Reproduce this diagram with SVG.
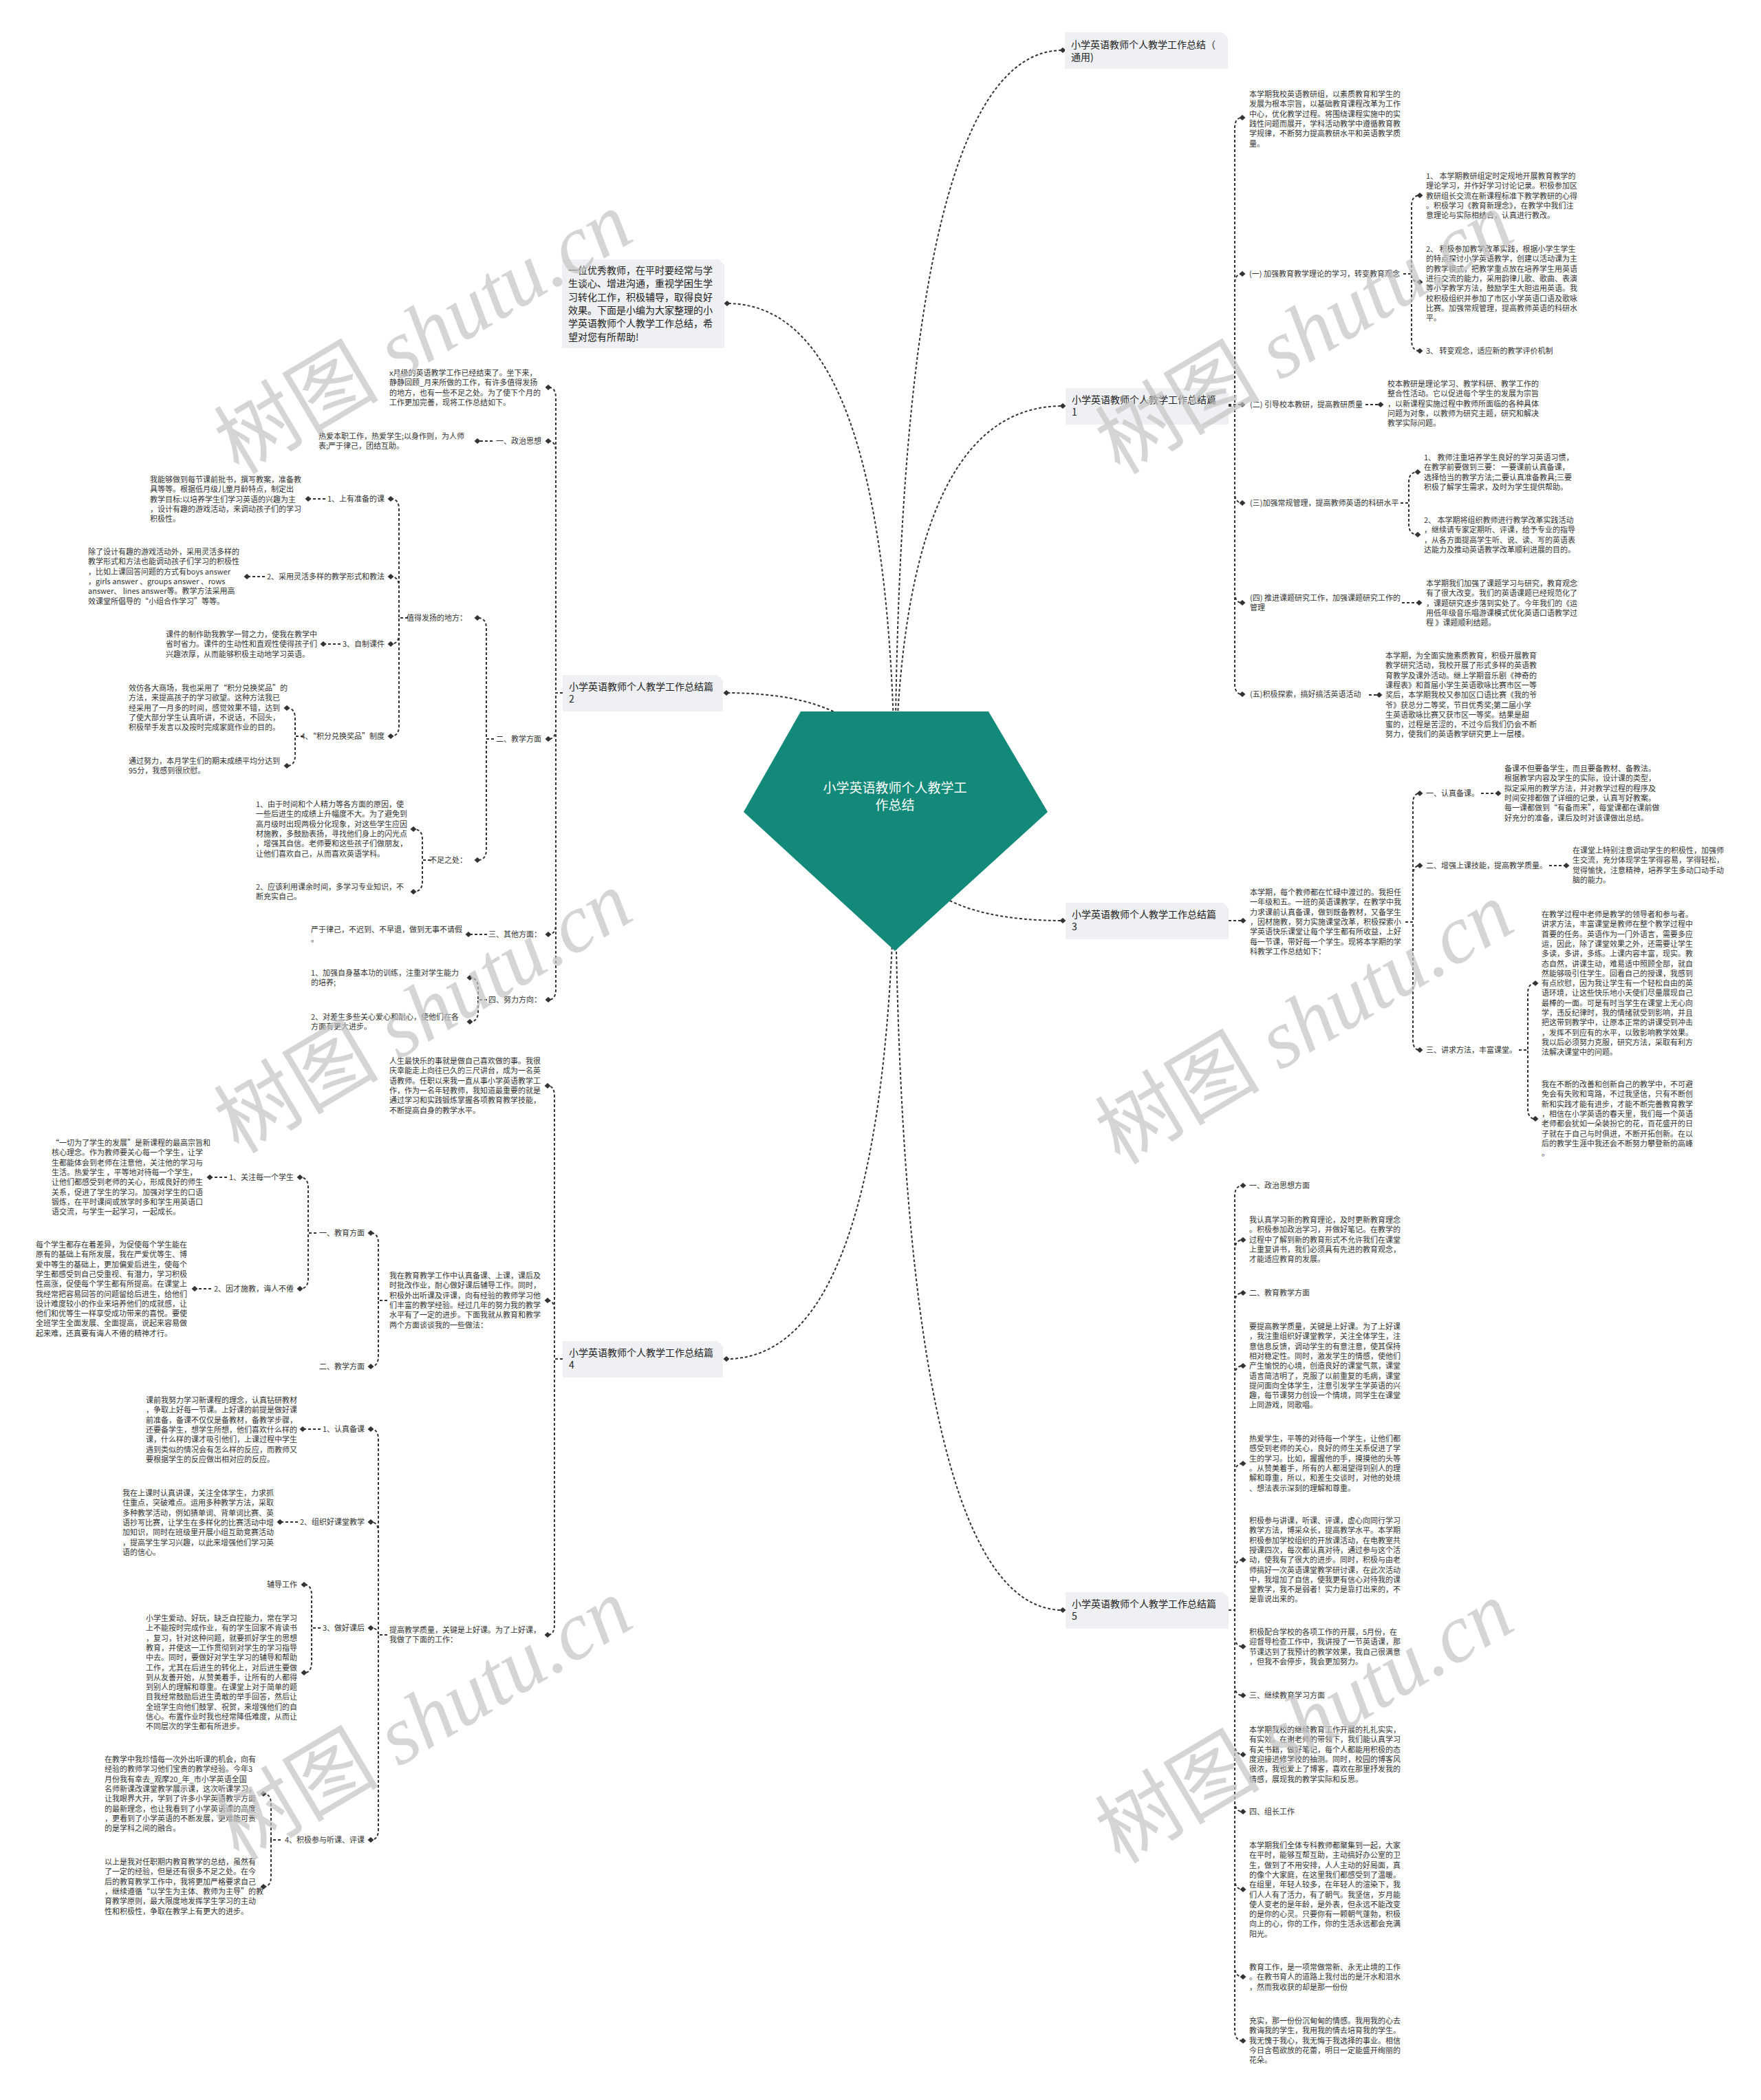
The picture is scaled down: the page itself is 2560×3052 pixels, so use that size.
<svg xmlns="http://www.w3.org/2000/svg" width="2560" height="3052" viewBox="0 0 2560 3052">
<defs>
<marker id="d" viewBox="-5 -5 10 10" refX="0" refY="0" markerWidth="10" markerHeight="9" markerUnits="userSpaceOnUse" orient="auto"><path d="M-5 0L0-4.5L5 0L0 4.5Z" fill="#333"/></marker>
<style>
.t{font-family:"Noto Sans CJK SC","Liberation Sans",sans-serif;font-size:11px;fill:#333}
.e{text-anchor:end}
.n{font-size:14px;fill:#222}
.box{fill:#eef0f3}
.c path{fill:none;stroke:#333;stroke-width:2;stroke-dasharray:4 3;marker-end:url(#d)}
.wm{font-size:120px;fill:#c4c4c4;opacity:.7}
.cj{font-family:"Noto Sans CJK SC",sans-serif}
.lt{font-family:"Liberation Serif",serif;font-style:italic}
</style>
</defs>
<rect width="2560" height="3052" fill="#fff"/>
<g id="connectors" class="c">
<path d="M1301 1180Q1301 73 1545 73"/>
<path d="M1301 1180Q1301 590 1545 590"/>
<path d="M1301 1180Q1301 1338 1545 1338"/>
<path d="M1301 1180Q1301 2340 1545 2340"/>
<path d="M1301 1180Q1301 441 1057 441"/>
<path d="M1301 1180Q1301 1007 1056 1007"/>
<path d="M1301 1180Q1301 1975 1056 1975"/>
<path d="M1786 590H1795V186Q1795 171 1806 171"/>
<path d="M1786 590H1795V413Q1795 398 1806 398"/>
<path d="M1786 588H1806"/>
<path d="M1786 590H1795V716Q1795 731 1806 731"/>
<path d="M1786 590H1795V861Q1795 876 1806 876"/>
<path d="M1786 590H1795V994Q1795 1009 1806 1009"/>
<path d="M2040 398H2052V299Q2052 284 2064 284"/>
<path d="M2040 398H2052Q2052 410 2064 410"/>
<path d="M2040 398H2052V495Q2052 510 2064 510"/>
<path d="M1985 588H2007"/>
<path d="M2036 731H2048V701Q2048 686 2061 686"/>
<path d="M2036 731H2048V762Q2048 777 2061 777"/>
<path d="M2038 876H2063"/>
<path d="M1990 1010H2005"/>
<path d="M1786 1338H1807"/>
<path d="M2043 1340H2054V1168Q2054 1153 2064 1153"/>
<path d="M2043 1340H2054V1273Q2054 1258 2064 1258"/>
<path d="M2043 1340H2054V1511Q2054 1526 2064 1526"/>
<path d="M2153 1153H2178"/>
<path d="M2252 1258H2277"/>
<path d="M2208 1526H2221V1444Q2221 1429 2232 1429"/>
<path d="M2208 1526H2221V1611Q2221 1626 2232 1626"/>
<path d="M1786 2340H1795V1738Q1795 1723 1807 1723"/>
<path d="M1786 2340H1795V1817Q1795 1802 1807 1802"/>
<path d="M1786 2340H1795V1894Q1795 1879 1807 1879"/>
<path d="M1786 2340H1795V2000Q1795 1985 1807 1985"/>
<path d="M1786 2340H1795V2142Q1795 2127 1807 2127"/>
<path d="M1786 2340H1795V2282Q1795 2267 1807 2267"/>
<path d="M1786 2340H1795V2378Q1795 2393 1807 2393"/>
<path d="M1786 2340H1795V2449Q1795 2464 1807 2464"/>
<path d="M1786 2340H1795V2535Q1795 2550 1807 2550"/>
<path d="M1786 2340H1795V2618Q1795 2633 1807 2633"/>
<path d="M1786 2340H1795V2731Q1795 2746 1807 2746"/>
<path d="M1786 2340H1795V2858Q1795 2873 1807 2873"/>
<path d="M1786 2340H1795V2951Q1795 2966 1807 2966"/>
<path d="M818 1007H808V578Q808 563 797 563"/>
<path d="M818 1007H808V656Q808 641 797 641"/>
<path d="M818 1007H808V1059Q808 1074 797 1074"/>
<path d="M818 1007H808V1343Q808 1358 797 1358"/>
<path d="M818 1007H808V1438Q808 1453 797 1453"/>
<path d="M716 641H694"/>
<path d="M718 1074H707V913Q707 898 694 898"/>
<path d="M718 1074H707V1235Q707 1250 694 1250"/>
<path d="M593 898H580V740Q580 725 568 725"/>
<path d="M593 898H580V853Q580 838 568 838"/>
<path d="M593 898H580V921Q580 936 568 936"/>
<path d="M593 898H580V1055Q580 1070 568 1070"/>
<path d="M473 725H448"/>
<path d="M385 838H359"/>
<path d="M495 936H470"/>
<path d="M441 1070H429V1044Q429 1029 417 1029"/>
<path d="M441 1070H429V1098Q429 1113 417 1113"/>
<path d="M626 1250H614V1220Q614 1205 601 1205"/>
<path d="M626 1250H614V1281Q614 1296 601 1296"/>
<path d="M708 1358H681"/>
<path d="M708 1453H695V1436Q695 1421 683 1421"/>
<path d="M708 1453H695V1470Q695 1485 683 1485"/>
<path d="M818 1975H806V1593Q806 1578 796 1578"/>
<path d="M818 1975H806V1905Q806 1890 796 1890"/>
<path d="M818 1975H806V2361Q806 2376 796 2376"/>
<path d="M563 1890H550V1807Q550 1792 539 1792"/>
<path d="M563 1890H550V1971Q550 1986 539 1986"/>
<path d="M460 1792H448V1726Q448 1711 436 1711"/>
<path d="M460 1792H448V1858Q448 1873 436 1873"/>
<path d="M330 1711H305"/>
<path d="M307 1873H283"/>
<path d="M563 2376H550V2092Q550 2077 539 2077"/>
<path d="M563 2376H550V2227Q550 2212 539 2212"/>
<path d="M563 2376H550Q550 2366 539 2366"/>
<path d="M563 2376H550V2659Q550 2674 539 2674"/>
<path d="M466 2077H440"/>
<path d="M433 2212H407"/>
<path d="M466 2366H453V2318Q453 2303 442 2303"/>
<path d="M466 2366H453V2416Q453 2431 442 2431"/>
<path d="M408 2674H394V2622Q394 2607 383 2607"/>
<path d="M408 2674H394V2727Q394 2742 383 2742"/>
</g>

<g id="root">
<polygon points="1164,1034 1437,1034 1523,1180 1301,1382 1081,1180" fill="#13897a"/>
<text class="t" x="1301" y="1152" text-anchor="middle" style="font-size:19px;fill:#fff"><tspan x="1301">小学英语教师个人教学工</tspan><tspan x="1301" dy="25">作总结</tspan></text>
</g>

<g id="n-intro"><path class="box" d="M817 377H1045L1053 385V506H817Z"/>
<text class="t n" x="826" y="398"><tspan x="826">一位优秀教师，在平时要经常与学</tspan><tspan x="826" dy="19.3">生谈心、增进沟通，重视学困生学</tspan><tspan x="826" dy="19.3">习转化工作，积极辅导，取得良好</tspan><tspan x="826" dy="19.3">效果。下面是小编为大家整理的小</tspan><tspan x="826" dy="19.3">学英语教师个人教学工作总结，希</tspan><tspan x="826" dy="19.3">望对您有所帮助!</tspan></text></g>

<g id="n-general"><path class="box" d="M1548 47H1777L1785 55V100H1548Z"/>
<text class="t n" x="1557" y="70"><tspan x="1557">小学英语教师个人教学工作总结（</tspan><tspan x="1557" dy="18">通用)</tspan></text></g>

<g id="n-p1"><path class="box" d="M1549 564H1778L1786 572V617H1549Z"/>
<text class="t n" x="1558" y="586"><tspan x="1558">小学英语教师个人教学工作总结篇</tspan><tspan x="1558" dy="18">1</tspan></text></g>

<g id="p1-intro"><text class="t" x="1816" y="141"><tspan x="1816">本学期我校英语教研组，以素质教育和学生的</tspan><tspan x="1816" dy="14.3">发展为根本宗旨，以基础教育课程改革为工作</tspan><tspan x="1816" dy="14.3">中心，优化教学过程。将围绕课程实施中的实</tspan><tspan x="1816" dy="14.3">践性问题而展开，学科活动教学中遵循教育教</tspan><tspan x="1816" dy="14.3">学规律，不断努力提高教研水平和英语教学质</tspan><tspan x="1816" dy="14.3">量。</tspan></text></g>
<g id="p1-a"><text class="t" x="1816" y="402">(一) 加强教育教学理论的学习，转变教育观念</text></g>
<g id="p1-a1"><text class="t" x="2073" y="260"><tspan x="2073">1、 本学期教研组定时定规地开展教育教学的</tspan><tspan x="2073" dy="14.3">理论学习，并作好学习讨论记录。积极参加区</tspan><tspan x="2073" dy="14.3">教研组长交流在新课程标准下教学教研的心得</tspan><tspan x="2073" dy="14.3">。积极学习《教育新理念》，在教学中我们注</tspan><tspan x="2073" dy="14.3">意理论与实际相结合，认真进行教改。</tspan></text></g>
<g id="p1-a2"><text class="t" x="2073" y="366"><tspan x="2073">2、 积极参加教学改革实践，根据小学生学生</tspan><tspan x="2073" dy="14.3">的特点探讨小学英语教学，创建以活动课为主</tspan><tspan x="2073" dy="14.3">的教学模式，把教学重点放在培养学生用英语</tspan><tspan x="2073" dy="14.3">进行交流的能力，采用韵律儿歌、歌曲、表演</tspan><tspan x="2073" dy="14.3">等小学教学方法，鼓励学生大胆运用英语。我</tspan><tspan x="2073" dy="14.3">校积极组织并参加了市区小学英语口语及歌咏</tspan><tspan x="2073" dy="14.3">比赛。加强常规管理，提高教师英语的科研水</tspan><tspan x="2073" dy="14.3">平。</tspan></text></g>
<g id="p1-a3"><text class="t" x="2073" y="514">3、 转变观念，适应新的教学评价机制</text></g>
<g id="p1-b"><text class="t" x="1817" y="592">(二) 引导校本教研，提高教研质量</text></g>
<g id="p1-b1"><text class="t" x="2017" y="562"><tspan x="2017">校本教研是理论学习、教学科研、教学工作的</tspan><tspan x="2017" dy="14.3">整合性活动。它以促进每个学生的发展为宗旨</tspan><tspan x="2017" dy="14.3">，以新课程实施过程中教师所面临的各种具体</tspan><tspan x="2017" dy="14.3">问题为对象，以教师为研究主题，研究和解决</tspan><tspan x="2017" dy="14.3">教学实际问题。</tspan></text></g>
<g id="p1-c"><text class="t" x="1817" y="735">(三)加强常规管理，提高教师英语的科研水平</text></g>
<g id="p1-c1"><text class="t" x="2070" y="669"><tspan x="2070">1、 教师注重培养学生良好的学习英语习惯，</tspan><tspan x="2070" dy="14.3">在教学前要做到三要： 一要课前认真备课，</tspan><tspan x="2070" dy="14.3">选择恰当的教学方法;二要认真准备教具;三要</tspan><tspan x="2070" dy="14.3">积极了解学生需求，及时为学生提供帮助。</tspan></text></g>
<g id="p1-c2"><text class="t" x="2070" y="760"><tspan x="2070">2、 本学期将组织教师进行教学改革实践活动</tspan><tspan x="2070" dy="14.3">，继续请专家定期听、评课，给予专业的指导</tspan><tspan x="2070" dy="14.3">，从各方面提高学生听、说、读、写的英语表</tspan><tspan x="2070" dy="14.3">达能力及推动英语教学改革顺利进展的目的。</tspan></text></g>
<g id="p1-d"><text class="t" x="1817" y="873"><tspan x="1817">(四) 推进课题研究工作，加强课题研究工作的</tspan><tspan x="1817" dy="14.3">管理</tspan></text></g>
<g id="p1-d1"><text class="t" x="2073" y="852"><tspan x="2073">本学期我们加强了课题学习与研究，教育观念</tspan><tspan x="2073" dy="14.3">有了很大改变。我们的英语课题已经规范化了</tspan><tspan x="2073" dy="14.3">，课题研究逐步落到实处了。今年我们的《运</tspan><tspan x="2073" dy="14.3">用低年级音乐唱游课模式优化英语口语教学过</tspan><tspan x="2073" dy="14.3">程 》课题顺利结题。</tspan></text></g>
<g id="p1-e"><text class="t" x="1817" y="1013">(五)积极探索，搞好搞活英语活动</text></g>
<g id="p1-e1"><text class="t" x="2014" y="957"><tspan x="2014">本学期，为全面实施素质教育，积极开展教育</tspan><tspan x="2014" dy="14.3">教学研究活动，我校开展了形式多样的英语教</tspan><tspan x="2014" dy="14.3">育教学及课外活动。继上学期音乐剧《神奇的</tspan><tspan x="2014" dy="14.3">课程表》和首届小学生英语歌咏比赛市区一等</tspan><tspan x="2014" dy="14.3">奖后，本学期我校又参加区口语比赛《我的爷</tspan><tspan x="2014" dy="14.3">爷》获总分二等奖，节目优秀奖;第二届小学</tspan><tspan x="2014" dy="14.3">生英语歌咏比赛又获市区一等奖。结果是甜</tspan><tspan x="2014" dy="14.3">蜜的，过程是苦涩的，不过今后我们仍会不断</tspan><tspan x="2014" dy="14.3">努力，使我们的英语教学研究更上一层楼。</tspan></text></g>

<g id="n-p3"><path class="box" d="M1549 1312H1778L1786 1320V1365H1549Z"/>
<text class="t n" x="1558" y="1334"><tspan x="1558">小学英语教师个人教学工作总结篇</tspan><tspan x="1558" dy="18">3</tspan></text></g>
<g id="p3-intro"><text class="t" x="1817" y="1301"><tspan x="1817">本学期，每个教师都在忙碌中渡过的。我担任</tspan><tspan x="1817" dy="14.3">一年级和五。一班的英语课教学，在教学中我</tspan><tspan x="1817" dy="14.3">力求课前认真备课，做到既备教材，又备学生</tspan><tspan x="1817" dy="14.3">，因材施教，努力实施课堂改革，积极探索小</tspan><tspan x="1817" dy="14.3">学英语快乐课堂让每个学生都有所收益，上好</tspan><tspan x="1817" dy="14.3">每一节课，带好每一个学生。现将本学期的学</tspan><tspan x="1817" dy="14.3">科教学工作总结如下：</tspan></text></g>
<g id="p3-a"><text class="t" x="2073" y="1157">一、认真备课。</text></g>
<g id="p3-a1"><text class="t" x="2187" y="1121"><tspan x="2187">备课不但要备学生，而且要备教材、备教法。</tspan><tspan x="2187" dy="14.3">根据教学内容及学生的实际，设计课的类型，</tspan><tspan x="2187" dy="14.3">拟定采用的教学方法，并对教学过程的程序及</tspan><tspan x="2187" dy="14.3">时间安排都做了详细的记录，认真写好教案。</tspan><tspan x="2187" dy="14.3">每一课都做到“有备而来”，每堂课都在课前做</tspan><tspan x="2187" dy="14.3">好充分的准备，课后及时对该课做出总结。</tspan></text></g>
<g id="p3-b"><text class="t" x="2073" y="1262">二、增强上课技能，提高教学质量。</text></g>
<g id="p3-b1"><text class="t" x="2286" y="1240"><tspan x="2286">在课堂上特别注意调动学生的积极性，加强师</tspan><tspan x="2286" dy="14.3">生交流，充分体现学生学得容易，学得轻松，</tspan><tspan x="2286" dy="14.3">觉得愉快，注意精神，培养学生多动口动手动</tspan><tspan x="2286" dy="14.3">脑的能力。</tspan></text></g>
<g id="p3-c"><text class="t" x="2073" y="1530">三、讲求方法，丰富课堂。</text></g>
<g id="p3-c1"><text class="t" x="2241" y="1333"><tspan x="2241">在教学过程中老师是教学的领导者和参与者。</tspan><tspan x="2241" dy="14.3">讲求方法，丰富课堂是教师在整个教学过程中</tspan><tspan x="2241" dy="14.3">首要的任务。英语作为一门外语言，需要多应</tspan><tspan x="2241" dy="14.3">运，因此，除了课堂效果之外，还需要让学生</tspan><tspan x="2241" dy="14.3">多读，多讲，多练。上课内容丰富，现实。教</tspan><tspan x="2241" dy="14.3">态自然，讲课生动，难易适中照顾全部，就自</tspan><tspan x="2241" dy="14.3">然能够吸引住学生。回看自己的授课，我感到</tspan><tspan x="2241" dy="14.3">有点欣慰，因为我让学生有一个轻松自由的英</tspan><tspan x="2241" dy="14.3">语环境，让这些快乐地小天使们尽量展现自己</tspan><tspan x="2241" dy="14.3">最棒的一面。可是有时当学生在课堂上无心向</tspan><tspan x="2241" dy="14.3">学，违反纪律时，我的情绪就受到影响，并且</tspan><tspan x="2241" dy="14.3">把这带到教学中，让原本正常的讲课受到冲击</tspan><tspan x="2241" dy="14.3">，发挥不到应有的水平，以致影响教学效果。</tspan><tspan x="2241" dy="14.3">我以后必须努力克服，研究方法，采取有利方</tspan><tspan x="2241" dy="14.3">法解决课堂中的问题。</tspan></text></g>
<g id="p3-c2"><text class="t" x="2241" y="1580"><tspan x="2241">我在不断的改善和创新自己的教学中，不可避</tspan><tspan x="2241" dy="14.3">免会有失败和弯路，不过我坚信，只有不断创</tspan><tspan x="2241" dy="14.3">新和实践才能有进步，才能不断完善教育教学</tspan><tspan x="2241" dy="14.3">，相信在小学英语的春天里，我们每一个英语</tspan><tspan x="2241" dy="14.3">老师都会犹如一朵装扮它的花，百花盛开的日</tspan><tspan x="2241" dy="14.3">子就在于自己与时俱进，不断开拓创新。在以</tspan><tspan x="2241" dy="14.3">后的教学生涯中我还会不断努力攀登新的高峰</tspan><tspan x="2241" dy="14.3">。</tspan></text></g>

<g id="n-p5"><path class="box" d="M1549 2314H1778L1786 2322V2367H1549Z"/>
<text class="t n" x="1558" y="2336"><tspan x="1558">小学英语教师个人教学工作总结篇</tspan><tspan x="1558" dy="18">5</tspan></text></g>
<g id="p5-a"><text class="t" x="1816" y="1727">一、政治思想方面</text></g>
<g id="p5-a1"><text class="t" x="1816" y="1777"><tspan x="1816">我认真学习新的教育理论，及时更新教育理念</tspan><tspan x="1816" dy="14.3">。积极参加政治学习，并做好笔记。在教学的</tspan><tspan x="1816" dy="14.3">过程中了解到新的教育形式不允许我们在课堂</tspan><tspan x="1816" dy="14.3">上重复讲书，我们必须具有先进的教育观念，</tspan><tspan x="1816" dy="14.3">才能适应教育的发展。</tspan></text></g>
<g id="p5-b"><text class="t" x="1816" y="1883">二、教育教学方面</text></g>
<g id="p5-b1"><text class="t" x="1816" y="1932"><tspan x="1816">要提高教学质量，关键是上好课。为了上好课</tspan><tspan x="1816" dy="14.3">，我注重组织好课堂教学，关注全体学生，注</tspan><tspan x="1816" dy="14.3">意信息反馈，调动学生的有意注意，使其保持</tspan><tspan x="1816" dy="14.3">相对稳定性。同时，激发学生的情感，使他们</tspan><tspan x="1816" dy="14.3">产生愉悦的心境，创造良好的课堂气氛，课堂</tspan><tspan x="1816" dy="14.3">语言简洁明了，克服了以前重复的毛病，课堂</tspan><tspan x="1816" dy="14.3">提问面向全体学生，注意引发学生学英语的兴</tspan><tspan x="1816" dy="14.3">趣，每节课努力创设一个情境，同学生在课堂</tspan><tspan x="1816" dy="14.3">上同游戏，同歌唱。</tspan></text></g>
<g id="p5-b2"><text class="t" x="1816" y="2095"><tspan x="1816">热爱学生，平等的对待每一个学生，让他们都</tspan><tspan x="1816" dy="14.3">感受到老师的关心，良好的师生关系促进了学</tspan><tspan x="1816" dy="14.3">生的学习。比如，握握他的手，摸摸他的头等</tspan><tspan x="1816" dy="14.3">。从赞美着手，所有的人都渴望得到别人的理</tspan><tspan x="1816" dy="14.3">解和尊重，所以，和差生交谈时，对他的处境</tspan><tspan x="1816" dy="14.3">、想法表示深刻的理解和尊重。</tspan></text></g>
<g id="p5-b3"><text class="t" x="1816" y="2214"><tspan x="1816">积极参与讲课，听课、评课，虚心向同行学习</tspan><tspan x="1816" dy="14.3">教学方法，博采众长，提高教学水平。本学期</tspan><tspan x="1816" dy="14.3">积极参加学校组织的开放课活动，在电教室共</tspan><tspan x="1816" dy="14.3">授课四次，每次都认真对待，通过参与这个活</tspan><tspan x="1816" dy="14.3">动，使我有了很大的进步。同时，积极与由老</tspan><tspan x="1816" dy="14.3">师搞好一次英语课堂教学研讨课，在此次活动</tspan><tspan x="1816" dy="14.3">中，我增加了自信，使我更有信心对待我的课</tspan><tspan x="1816" dy="14.3">堂教学，我不是弱者！实力是靠打出来的，不</tspan><tspan x="1816" dy="14.3">是靠说出来的。</tspan></text></g>
<g id="p5-b4"><text class="t" x="1816" y="2376"><tspan x="1816">积极配合学校的各项工作的开展，5月份，在</tspan><tspan x="1816" dy="14.3">迎督导检查工作中，我讲授了一节英语课，那</tspan><tspan x="1816" dy="14.3">节课达到了我预计的教学效果，我自己很满意</tspan><tspan x="1816" dy="14.3">，但我不会停步，我会更加努力。</tspan></text></g>
<g id="p5-c"><text class="t" x="1816" y="2468">三、继续教育学习方面</text></g>
<g id="p5-c1"><text class="t" x="1816" y="2518"><tspan x="1816">本学期我校的继续教育工作开展的扎扎实实，</tspan><tspan x="1816" dy="14.3">有实效。在谢老师的带领下，我们能认真学习</tspan><tspan x="1816" dy="14.3">有关书籍，做好笔记，每个人都能用积极的态</tspan><tspan x="1816" dy="14.3">度迎接进修学校的抽测。同时，校园的博客风</tspan><tspan x="1816" dy="14.3">很浓，我也爱上了博客，喜欢在那里抒发我的</tspan><tspan x="1816" dy="14.3">情感，展现我的教学实际和反思。</tspan></text></g>
<g id="p5-d"><text class="t" x="1816" y="2637">四、组长工作</text></g>
<g id="p5-d1"><text class="t" x="1816" y="2686"><tspan x="1816">本学期我们全体专科教师都聚集到一起，大家</tspan><tspan x="1816" dy="14.3">在平时，能够互帮互助，主动搞好办公室的卫</tspan><tspan x="1816" dy="14.3">生，做到了不用安排，人人主动的好局面，真</tspan><tspan x="1816" dy="14.3">的像个大家庭，在这里我们都感受到了温暖。</tspan><tspan x="1816" dy="14.3">在组里，年轻人较多，在年轻人的渲染下，我</tspan><tspan x="1816" dy="14.3">们人人有了活力，有了朝气。我坚信，岁月能</tspan><tspan x="1816" dy="14.3">使人变老的是年龄，是外表，但永远不能改变</tspan><tspan x="1816" dy="14.3">的是你的心灵。只要你有一颗朝气蓬勃，积极</tspan><tspan x="1816" dy="14.3">向上的心，你的工作，你的生活永远都会充满</tspan><tspan x="1816" dy="14.3">阳光。</tspan></text></g>
<g id="p5-e"><text class="t" x="1816" y="2863"><tspan x="1816">教育工作，是一项常做常新、永无止境的工作</tspan><tspan x="1816" dy="14.3">。在教书育人的道路上我付出的是汗水和泪水</tspan><tspan x="1816" dy="14.3">，然而我收获的却是那一份份</tspan></text></g>
<g id="p5-f"><text class="t" x="1816" y="2941"><tspan x="1816">充实，那一份份沉甸甸的情感。我用我的心去</tspan><tspan x="1816" dy="14.3">教诲我的学生，我用我的情去培育我的学生。</tspan><tspan x="1816" dy="14.3">我无愧于我心，我无悔于我选择的事业。相信</tspan><tspan x="1816" dy="14.3">今日含苞欲放的花蕾，明日一定能盛开绚丽的</tspan><tspan x="1816" dy="14.3">花朵。</tspan></text></g>

<g id="n-p2"><path class="box" d="M818 981H1043L1051 989V1034H818Z"/>
<text class="t n" x="827" y="1003"><tspan x="827">小学英语教师个人教学工作总结篇</tspan><tspan x="827" dy="18">2</tspan></text></g>
<g id="p2-intro"><text class="t" x="566" y="546"><tspan x="566">x月级的英语教学工作已经结束了。坐下来，</tspan><tspan x="566" dy="14.3">静静回顾_月来所做的工作，有许多值得发扬</tspan><tspan x="566" dy="14.3">的地方，也有一些不足之处。为了使下个月的</tspan><tspan x="566" dy="14.3">工作更加完善，现将工作总结如下。</tspan></text></g>
<g id="p2-a"><text class="t e" x="787" y="645">一、政治思想</text></g>
<g id="p2-a1"><text class="t" x="463" y="638"><tspan x="463">热爱本职工作，热爱学生;以身作则，为人师</tspan><tspan x="463" dy="14.3">表;严于律己，团结互助。</tspan></text></g>
<g id="p2-b"><text class="t e" x="787" y="1078">二、教学方面</text></g>
<g id="p2-b1"><text class="t e" x="679" y="902">值得发扬的地方：</text></g>
<g id="p2-b11"><text class="t e" x="559" y="729">1、上有准备的课</text></g>
<g id="p2-b11t"><text class="t" x="218" y="701"><tspan x="218">我能够做到每节课前批书，撰写教案，准备教</tspan><tspan x="218" dy="14.3">具等等。根据低月级儿童月龄特点，制定出</tspan><tspan x="218" dy="14.3">教学目标:以培养学生们学习英语的兴趣为主</tspan><tspan x="218" dy="14.3">，设计有趣的游戏活动，来调动孩子们的学习</tspan><tspan x="218" dy="14.3">积极性。</tspan></text></g>
<g id="p2-b12"><text class="t e" x="559" y="842">2、采用灵活多样的教学形式和教法</text></g>
<g id="p2-b12t"><text class="t" x="128" y="806"><tspan x="128">除了设计有趣的游戏活动外，采用灵活多样的</tspan><tspan x="128" dy="14.3">教学形式和方法也能调动孩子们学习的积极性</tspan><tspan x="128" dy="14.3">，比如上课回答问题的方式有boys answer</tspan><tspan x="128" dy="14.3">，girls answer 、groups answer 、rows</tspan><tspan x="128" dy="14.3">answer、 lines answer等。教学方法采用高</tspan><tspan x="128" dy="14.3">效课堂所倡导的“小组合作学习”等等。</tspan></text></g>
<g id="p2-b13"><text class="t e" x="559" y="940">3、自制课件</text></g>
<g id="p2-b13t"><text class="t" x="241" y="926"><tspan x="241">课件的制作助我教学一臂之力，使我在教学中</tspan><tspan x="241" dy="14.3">省时省力。课件的生动性和直观性使得孩子们</tspan><tspan x="241" dy="14.3">兴趣浓厚，从而能够积极主动地学习英语。</tspan></text></g>
<g id="p2-b14"><text class="t e" x="559" y="1074">4、“积分兑换奖品”制度</text></g>
<g id="p2-b14a"><text class="t" x="187" y="1004"><tspan x="187">效仿各大商场，我也采用了“积分兑换奖品”的</tspan><tspan x="187" dy="14.3">方法，来提高孩子的学习欲望。这种方法我已</tspan><tspan x="187" dy="14.3">经采用了一月多的时间，感觉效果不错，达到</tspan><tspan x="187" dy="14.3">了使大部分学生认真听讲，不说话，不回头，</tspan><tspan x="187" dy="14.3">积极举手发言以及按时完成家庭作业的目的。</tspan></text></g>
<g id="p2-b14b"><text class="t" x="187" y="1110"><tspan x="187">通过努力，本月学生们的期末成绩平均分达到</tspan><tspan x="187" dy="14.3">95分，我感到很欣慰。</tspan></text></g>
<g id="p2-b2"><text class="t e" x="679" y="1254">不足之处：</text></g>
<g id="p2-b21"><text class="t" x="372" y="1173"><tspan x="372">1、由于时间和个人精力等各方面的原因，使</tspan><tspan x="372" dy="14.3">一些后进生的成绩上升幅度不大。为了避免到</tspan><tspan x="372" dy="14.3">高月级时出现两极分化现象，对这些学生应因</tspan><tspan x="372" dy="14.3">材施教，多鼓励表扬，寻找他们身上的闪光点</tspan><tspan x="372" dy="14.3">，增强其自信。老师要和这些孩子们做朋友，</tspan><tspan x="372" dy="14.3">让他们喜欢自己，从而喜欢英语学科。</tspan></text></g>
<g id="p2-b22"><text class="t" x="372" y="1293"><tspan x="372">2、应该利用课余时间，多学习专业知识，不</tspan><tspan x="372" dy="14.3">断充实自己。</tspan></text></g>
<g id="p2-c"><text class="t e" x="787" y="1362">三、其他方面：</text></g>
<g id="p2-c1"><text class="t" x="452" y="1355"><tspan x="452">严于律己，不迟到、不早退，做到无事不请假</tspan><tspan x="452" dy="14.3">。</tspan></text></g>
<g id="p2-d"><text class="t e" x="787" y="1457">四、努力方向：</text></g>
<g id="p2-d1"><text class="t" x="452" y="1418"><tspan x="452">1、加强自身基本功的训练，注重对学生能力</tspan><tspan x="452" dy="14.3">的培养;</tspan></text></g>
<g id="p2-d2"><text class="t" x="452" y="1482"><tspan x="452">2、对差生多些关心爱心和耐心，使他们在各</tspan><tspan x="452" dy="14.3">方面有更大进步。</tspan></text></g>

<g id="n-p4"><path class="box" d="M818 1949H1043L1051 1957V2002H818Z"/>
<text class="t n" x="827" y="1971"><tspan x="827">小学英语教师个人教学工作总结篇</tspan><tspan x="827" dy="18">4</tspan></text></g>
<g id="p4-a"><text class="t" x="566" y="1546"><tspan x="566">人生最快乐的事就是做自己喜欢做的事。我很</tspan><tspan x="566" dy="14.3">庆幸能走上向往已久的三尺讲台，成为一名英</tspan><tspan x="566" dy="14.3">语教师。任职以来我一直从事小学英语教学工</tspan><tspan x="566" dy="14.3">作，作为一名年轻教师，我知道最重要的就是</tspan><tspan x="566" dy="14.3">通过学习和实践锻炼掌握各项教育教学技能，</tspan><tspan x="566" dy="14.3">不断提高自身的教学水平。</tspan></text></g>
<g id="p4-b"><text class="t" x="566" y="1858"><tspan x="566">我在教育教学工作中认真备课、上课，课后及</tspan><tspan x="566" dy="14.3">时批改作业，耐心做好课后辅导工作。同时，</tspan><tspan x="566" dy="14.3">积极外出听课及评课，向有经验的教师学习他</tspan><tspan x="566" dy="14.3">们丰富的教学经验。经过几年的努力我的教学</tspan><tspan x="566" dy="14.3">水平有了一定的进步。下面我就从教育和教学</tspan><tspan x="566" dy="14.3">两个方面谈谈我的一些做法：</tspan></text></g>
<g id="p4-b1"><text class="t e" x="530" y="1796">一、教育方面</text></g>
<g id="p4-b11"><text class="t e" x="427" y="1715">1、关注每一个学生</text></g>
<g id="p4-b11t"><text class="t" x="75" y="1665"><tspan x="75">“一切为了学生的发展”是新课程的最高宗旨和</tspan><tspan x="75" dy="14.3">核心理念。作为教师要关心每一个学生，让学</tspan><tspan x="75" dy="14.3">生都能体会到老师在注意他，关注他的学习与</tspan><tspan x="75" dy="14.3">生活。热爱学生 ，平等地对待每一个学生，</tspan><tspan x="75" dy="14.3">让他们都感受到老师的关心，形成良好的师生</tspan><tspan x="75" dy="14.3">关系，促进了学生的学习。加强对学生的口语</tspan><tspan x="75" dy="14.3">锻炼，在平时课间或放学时多和学生用英语口</tspan><tspan x="75" dy="14.3">语交流，与学生一起学习，一起成长。</tspan></text></g>
<g id="p4-b12"><text class="t e" x="427" y="1877">2、因才施教，诲人不倦</text></g>
<g id="p4-b12t"><text class="t" x="52" y="1813"><tspan x="52">每个学生都存在着差异，为促使每个学生能在</tspan><tspan x="52" dy="14.3">原有的基础上有所发展，我在严爱优等生、博</tspan><tspan x="52" dy="14.3">爱中等生的基础上，更加偏爱后进生，使每个</tspan><tspan x="52" dy="14.3">学生都感受到自己受重视、有潜力，学习积极</tspan><tspan x="52" dy="14.3">性高涨，促使每个学生都有所提高。在课堂上</tspan><tspan x="52" dy="14.3">我经常把容易回答的问题留给后进生，给他们</tspan><tspan x="52" dy="14.3">设计难度较小的作业来培养他们的成就感，让</tspan><tspan x="52" dy="14.3">他们和优等生一样享受成功带来的喜悦。要使</tspan><tspan x="52" dy="14.3">全班学生全面发展、全面提高，说起来容易做</tspan><tspan x="52" dy="14.3">起来难，还真要有诲人不倦的精神才行。</tspan></text></g>
<g id="p4-b2"><text class="t e" x="530" y="1990">二、教学方面</text></g>
<g id="p4-c"><text class="t" x="566" y="2373"><tspan x="566">提高教学质量，关键是上好课。为了上好课，</tspan><tspan x="566" dy="14.3">我做了下面的工作：</tspan></text></g>
<g id="p4-c1"><text class="t e" x="530" y="2081">1、认真备课</text></g>
<g id="p4-c1t"><text class="t" x="212" y="2039"><tspan x="212">课前我努力学习新课程的理念，认真钻研教材</tspan><tspan x="212" dy="14.3">，争取上好每一节课。上好课的前提是做好课</tspan><tspan x="212" dy="14.3">前准备，备课不仅仅是备教材，备教学步骤，</tspan><tspan x="212" dy="14.3">还要备学生，想学生所想，他们喜欢什么样的</tspan><tspan x="212" dy="14.3">课，什么样的课才吸引他们，上课过程中学生</tspan><tspan x="212" dy="14.3">遇到类似的情况会有怎么样的反应，而教师又</tspan><tspan x="212" dy="14.3">要根据学生的反应做出相对应的反应。</tspan></text></g>
<g id="p4-c2"><text class="t e" x="530" y="2216">2、组织好课堂教学</text></g>
<g id="p4-c2t"><text class="t" x="178" y="2174"><tspan x="178">我在上课时认真讲课，关注全体学生，力求抓</tspan><tspan x="178" dy="14.3">住重点，突破难点。运用多种教学方法，采取</tspan><tspan x="178" dy="14.3">多种教学活动，例如猜单词、背单词比赛、英</tspan><tspan x="178" dy="14.3">语抄写比赛，让学生在多样化的比赛活动中增</tspan><tspan x="178" dy="14.3">加知识，同时在班级里开展小组互助竞赛活动</tspan><tspan x="178" dy="14.3">，提高学生学习兴趣，以此来增强他们学习英</tspan><tspan x="178" dy="14.3">语的信心。</tspan></text></g>
<g id="p4-c3"><text class="t e" x="530" y="2370">3、做好课后</text></g>
<g id="p4-c31"><text class="t e" x="432" y="2307">辅导工作</text></g>
<g id="p4-c32"><text class="t" x="212" y="2356"><tspan x="212">小学生爱动、好玩，缺乏自控能力，常在学习</tspan><tspan x="212" dy="14.3">上不能按时完成作业，有的学生回家不肯读书</tspan><tspan x="212" dy="14.3">，复习，针对这种问题，就要抓好学生的思想</tspan><tspan x="212" dy="14.3">教育，并使这一工作贯彻到对学生的学习指导</tspan><tspan x="212" dy="14.3">中去。同时，要做好对学生学习的辅导和帮助</tspan><tspan x="212" dy="14.3">工作，尤其在后进生的转化上，对后进生要做</tspan><tspan x="212" dy="14.3">到从友善开始，从赞美着手，让所有的人都得</tspan><tspan x="212" dy="14.3">到别人的理解和尊重。在课堂上对于简单的题</tspan><tspan x="212" dy="14.3">目我经常鼓励后进生勇敢的举手回答，然后让</tspan><tspan x="212" dy="14.3">全班学生向他们鼓掌、祝贺，来增强他们的自</tspan><tspan x="212" dy="14.3">信心。布置作业时我也经常降低难度，从而让</tspan><tspan x="212" dy="14.3">不同层次的学生都有所进步。</tspan></text></g>
<g id="p4-c4"><text class="t e" x="530" y="2678">4、积极参与听课、评课</text></g>
<g id="p4-c41"><text class="t" x="152" y="2561"><tspan x="152">在教学中我珍惜每一次外出听课的机会，向有</tspan><tspan x="152" dy="14.3">经验的教师学习他们宝贵的教学经验。今年3</tspan><tspan x="152" dy="14.3">月份我有幸去_观摩20_年_市小学英语全国</tspan><tspan x="152" dy="14.3">名师新课改课堂教学展示课，这次听课学习，</tspan><tspan x="152" dy="14.3">让我眼界大开，学到了许多小学英语教学方面</tspan><tspan x="152" dy="14.3">的最新理念，也让我看到了小学英语课的高度</tspan><tspan x="152" dy="14.3">，更看到了小学英语的不断发展，更难能可贵</tspan><tspan x="152" dy="14.3">的是学科之间的融合。</tspan></text></g>
<g id="p4-c42"><text class="t" x="152" y="2710"><tspan x="152">以上是我对任职期内教育教学的总结，虽然有</tspan><tspan x="152" dy="14.3">了一定的经验，但是还有很多不足之处。在今</tspan><tspan x="152" dy="14.3">后的教育教学工作中，我将更加严格要求自己</tspan><tspan x="152" dy="14.3">，继续遵循“以学生为主体、教师为主导”的教</tspan><tspan x="152" dy="14.3">育教学原则，最大限度地发挥学生学习的主动</tspan><tspan x="152" dy="14.3">性和积极性，争取在教学上有更大的进步。</tspan></text></g>

<g id="watermarks">
<text class="wm" transform="translate(347 691) rotate(-30.7)"><tspan class="cj">树图</tspan><tspan class="lt"> shutu.cn</tspan></text>
<text class="wm" transform="translate(1628 691) rotate(-30.7)"><tspan class="cj">树图</tspan><tspan class="lt"> shutu.cn</tspan></text>
<text class="wm" transform="translate(347 1678) rotate(-30.7)"><tspan class="cj">树图</tspan><tspan class="lt"> shutu.cn</tspan></text>
<text class="wm" transform="translate(1628 1694) rotate(-30.7)"><tspan class="cj">树图</tspan><tspan class="lt"> shutu.cn</tspan></text>
<text class="wm" transform="translate(347 2706) rotate(-30.7)"><tspan class="cj">树图</tspan><tspan class="lt"> shutu.cn</tspan></text>
<text class="wm" transform="translate(1628 2710) rotate(-30.7)"><tspan class="cj">树图</tspan><tspan class="lt"> shutu.cn</tspan></text>
</g>
</svg>
